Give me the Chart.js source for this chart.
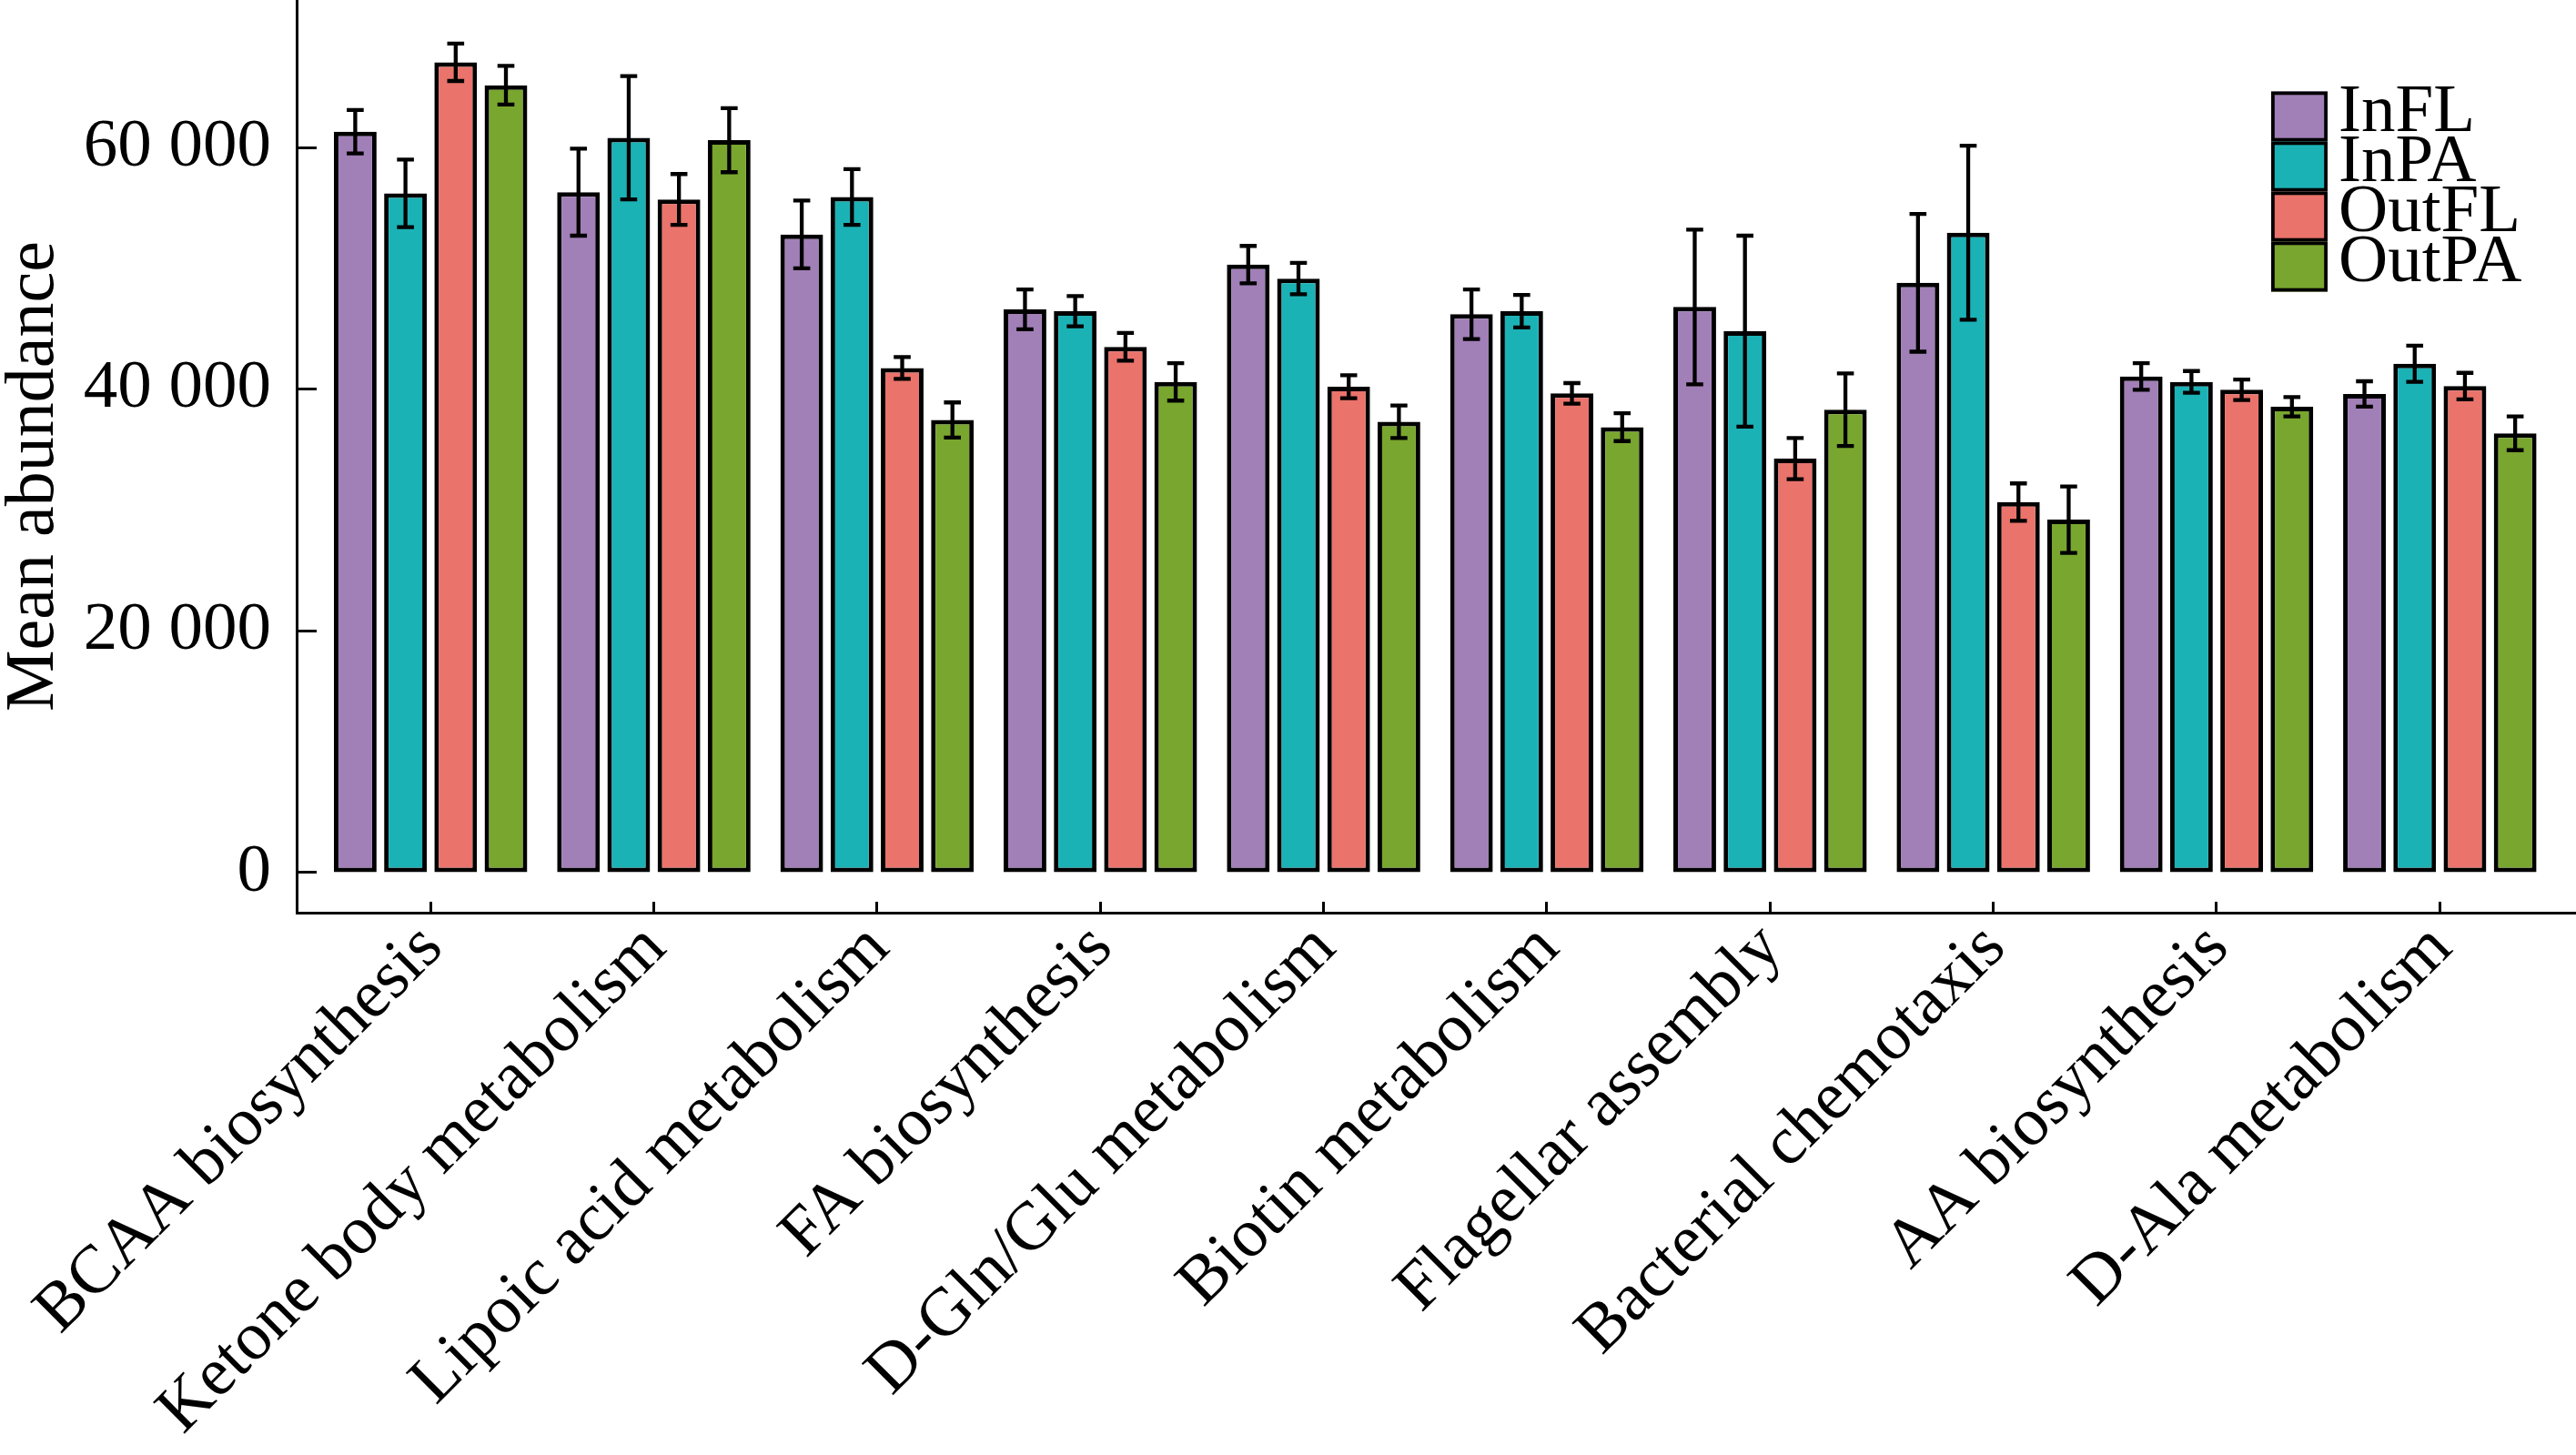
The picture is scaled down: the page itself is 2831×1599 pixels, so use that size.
<!DOCTYPE html>
<html>
<head>
<meta charset="utf-8">
<script src="https://cdn.jsdelivr.net/npm/chart.js@4.4.1/dist/chart.umd.min.js"></script>
<style>
html,body{margin:0;padding:0;background:#ffffff;}
#wrap{width:2831px;height:1599px;position:relative;}
canvas{display:block;}
</style>
</head>
<body>
<div id="wrap"><canvas id="c" width="2831" height="1599"></canvas></div>
<script>
// ---- data ----
const categories = [
  'BCAA biosynthesis', 'Ketone body metabolism', 'Lipoic acid metabolism', 'FA biosynthesis',
  'D-Gln/Glu metabolism', 'Biotin metabolism', 'Flagellar assembly', 'Bacterial chemotaxis',
  'AA biosynthesis', 'D-Ala metabolism'
];
const seriesNames = ['InFL', 'InPA', 'OutFL', 'OutPA'];

const inFL     = [61300, 56300, 52800, 46600, 50300, 46200, 46800, 48800, 41050, 39600];
const inFLErr  = [1800, 3600, 2800, 1650, 1550, 2050, 6400, 5700, 1100, 1050];
const inPA     = [56200, 60800, 55900, 46450, 49150, 46450, 44800, 52950, 40600, 42100];
const inPAErr  = [2800, 5100, 2300, 1250, 1300, 1350, 7900, 7200, 900, 1500];
const outFL    = [67050, 55700, 41750, 43500, 40200, 39650, 34250, 30650, 39950, 40250];
const outFLErr = [1550, 2100, 900, 1150, 950, 850, 1700, 1550, 850, 1100];
const outPA    = [65150, 60600, 37450, 40600, 37300, 36850, 38300, 29200, 38550, 36350];
const outPAErr = [1600, 2650, 1450, 1550, 1350, 1150, 3000, 2750, 800, 1400];

const yTickValues = [0, 20000, 40000, 60000];
const yTickLabels = ['0', '20 000', '40 000', '60 000'];
const yTitle = 'Mean abundance';

// ---- styles ----
const colors = ['#A17FB7', '#1BB2B6', '#EA736B', '#79A62E'];
const FONT = "'Liberation Serif', 'Times New Roman', serif";

const seriesValues = [inFL, inPA, outFL, outPA];
const seriesErrors = [inFLErr, inPAErr, outFLErr, outPAErr];

const datasets = seriesNames.map((name, s) => ({
  label: name,
  data: categories.map((_, i) => ({ x: i, y: seriesValues[s][i] })),
  errors: seriesErrors[s],
  backgroundColor: colors[s],
  borderColor: '#000000',
  borderWidth: 5,
  borderSkipped: false,
  categoryPercentage: 0.9,
  barPercentage: 0.85
}));

const errorBars = {
  id: 'errorBars',
  afterDatasetsDraw(chart) {
    const ctx = chart.ctx;
    const ys = chart.scales.y;
    chart.data.datasets.forEach((ds, di) => {
      const meta = chart.getDatasetMeta(di);
      meta.data.forEach((bar, i) => {
        const v = ds.data[i].y, e = ds.errors[i];
        const yt = ys.getPixelForValue(v + e);
        const yb = ys.getPixelForValue(v - e);
        const cap = 9.3;
        ctx.save();
        ctx.strokeStyle = '#000000';
        ctx.lineWidth = 4.3;
        ctx.beginPath();
        ctx.moveTo(bar.x, yt); ctx.lineTo(bar.x, yb);
        ctx.moveTo(bar.x - cap, yt); ctx.lineTo(bar.x + cap, yt);
        ctx.moveTo(bar.x - cap, yb); ctx.lineTo(bar.x + cap, yb);
        ctx.stroke();
        ctx.restore();
      });
    });
  }
};

const boxLegend = {
  id: 'boxLegend',
  afterDraw(chart) {
    const ctx = chart.ctx;
    const area = chart.chartArea;
    const x0 = area.right - 335, y0 = 100.5, w = 62, h = 55, bw = 3.8;
    ctx.save();
    chart.data.datasets.forEach((ds, i) => {
      const top = y0 + i * h;
      ctx.fillStyle = ds.backgroundColor;
      ctx.fillRect(x0, top, w, h);
      ctx.lineWidth = bw;
      ctx.strokeStyle = '#000000';
      ctx.strokeRect(x0 + bw / 2, top + bw / 2, w - bw, h - bw);
      ctx.fillStyle = '#000000';
      ctx.font = '75px ' + FONT;
      ctx.textAlign = 'left';
      ctx.textBaseline = 'alphabetic';
      ctx.fillText(ds.label, x0 + w + 12, top + 43.5);
    });
    ctx.restore();
  }
};

// the reference's y-axis title sits slightly below the middle of the axis
const titleShift = {
  id: 'titleShift',
  beforeDraw(chart) {
    const s = chart.scales.y;
    if (s && !s._titlePatched) {
      const orig = s.drawTitle.bind(s);
      s.drawTitle = function () {
        const b = this.bottom;
        this.bottom = b + 44;
        orig();
        this.bottom = b;
      };
      s._titlePatched = true;
    }
  }
};

new Chart(document.getElementById('c'), {
  type: 'bar',
  data: { datasets },
  plugins: [titleShift, errorBars, boxLegend],
  options: {
    responsive: false,
    devicePixelRatio: 1,
    animation: false,
    layout: { padding: 0 },
    plugins: { legend: { display: false }, tooltip: { enabled: false }, title: { display: false } },
    scales: {
      x: {
        type: 'linear',
        min: -0.6,
        max: 9.61,
        offset: false,
        afterBuildTicks: s => { s.ticks = categories.map((_, i) => ({ value: i })); },
        afterFit: s => { s.height = 596; s.paddingLeft = 0; s.paddingRight = 0; },
        ticks: {
          callback: v => categories[v],
          minRotation: 45, maxRotation: 45, autoSkip: false, labelOffset: 2,
          font: { family: FONT, size: 75, lineHeight: 0.5 }, color: '#000000', padding: 26
        },
        grid: { display: true, offset: false, drawOnChartArea: false, drawTicks: true, tickLength: -12, tickWidth: 3, tickColor: '#000000' },
        border: { display: true, color: '#000000', width: 3 }
      },
      y: {
        min: -3320,
        max: 72200,
        afterBuildTicks: s => { s.ticks = yTickValues.map(v => ({ value: v })); },
        afterFit: s => { s.width = 326; s.paddingTop = 0; s.paddingBottom = 0; },
        ticks: {
          callback: (v, i) => yTickLabels[i],
          font: { family: FONT, size: 75 }, color: '#000000', padding: 50
        },
        grid: { display: true, offset: false, drawOnChartArea: false, drawTicks: true, tickLength: -22, tickWidth: 3, tickColor: '#000000' },
        border: { display: true, color: '#000000', width: 3 },
        title: { display: true, text: yTitle, color: '#000000', font: { family: FONT, size: 76, lineHeight: 1 }, padding: 0 }
      }
    }
  }
});
</script>
</body>
</html>
